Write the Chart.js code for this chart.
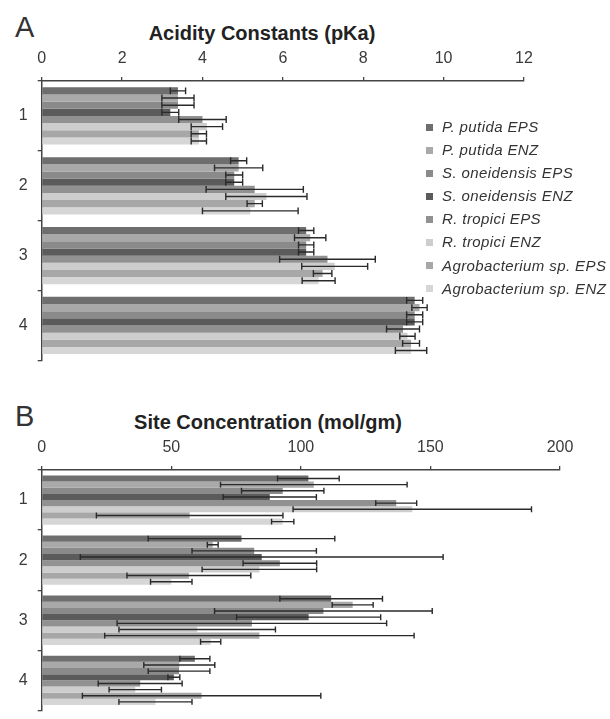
<!DOCTYPE html>
<html>
<head>
<meta charset="utf-8">
<script src="https://cdn.jsdelivr.net/npm/chart.js@4.4.0/dist/chart.umd.min.js"></script>
<style>
  html, body { margin: 0; padding: 0; background: #fff; overflow: hidden; }
  body { width: 610px; height: 719px; position: relative; font-family: "Liberation Sans", Arial, sans-serif; color: #2a2a2a; }
  canvas { position: absolute; left: 0; }
  .panel { position: absolute; font-size: 29px; line-height: 29px; color: #333; }
  .title { position: absolute; left: 0; width: 524px; text-align: center; font-weight: bold; font-size: 20px; line-height: 20px; color: #222; }
  #legend { position: absolute; left: 426px; top: 115px; }
  .item { height: 23.1px; line-height: 23.1px; font-size: 15px; font-style: italic; letter-spacing: 0.4px; color: #333; white-space: nowrap; }
  .item span { display: inline-block; width: 7px; height: 7px; margin-right: 9px; vertical-align: middle; position: relative; top: -1px; }
</style>
</head>
<body>
<div class="panel" style="left:15px; top:13px;">A</div>
<div class="title" style="top:23px;">Acidity Constants (pKa)</div>
<canvas id="pkaChart" width="610" height="380" style="top:0;"></canvas>
<div id="legend"></div>

<div class="panel" style="left:15px; top:402px;">B</div>
<div class="title" style="top:412px; left:6px;">Site Concentration (mol/gm)</div>
<canvas id="siteChart" width="610" height="341" style="top:389px;"></canvas>

<script>
// ---- data ----
const groups = ["1", "2", "3", "4"];
const strains = [
  "P. putida EPS", "P. putida ENZ", "S. oneidensis EPS", "S. oneidensis ENZ",
  "R. tropici EPS", "R. tropici ENZ", "Agrobacterium sp. EPS", "Agrobacterium sp. ENZ"
];
const greys = ["#6e6e6e", "#a9a9a9", "#8a8a8a", "#5b5b5b", "#919191", "#cdcdcd", "#a7a7a7", "#d6d6d6"];

const pkaTicks = [0, 2, 4, 6, 8, 10, 12];
const siteTicks = [0, 50, 100, 150, 200];

// one row per strain, columns = site 1..4
const pkaValues = [
  [3.39, 4.90, 6.58, 9.28],
  [3.39, 4.90, 6.68, 9.40],
  [3.39, 4.79, 6.58, 9.28],
  [3.20, 4.79, 6.58, 9.28],
  [4.00, 5.30, 7.11, 8.99],
  [4.11, 5.59, 7.29, 9.10],
  [3.91, 5.30, 6.99, 9.19],
  [3.91, 5.19, 6.89, 9.19]
];
const pkaErrors = [
  [0.19, 0.20, 0.19, 0.20],
  [0.40, 0.60, 0.39, 0.19],
  [0.40, 0.21, 0.19, 0.20],
  [0.21, 0.21, 0.19, 0.20],
  [0.59, 1.21, 1.19, 0.41],
  [0.39, 1.01, 0.82, 0.19],
  [0.19, 0.19, 0.23, 0.21],
  [0.19, 1.19, 0.41, 0.39]
];

const siteValues = [
  [102.9, 77.1, 111.7, 59.1],
  [105.0, 66.0, 120.0, 53.1],
  [93.0, 82.0, 108.7, 53.0],
  [88.0, 84.9, 103.0, 51.0],
  [136.8, 91.9, 81.1, 38.0],
  [143.0, 84.0, 60.0, 36.1],
  [57.1, 56.8, 84.0, 61.7],
  [93.0, 50.0, 65.2, 43.9]
];
const siteErrors = [
  [11.9, 36.0, 19.8, 5.8],
  [36.0, 2.1, 7.9, 13.7],
  [15.9, 24.0, 42.0, 11.9],
  [18.0, 70.0, 27.8, 2.3],
  [7.9, 14.2, 52.0, 16.2],
  [46.0, 22.1, 30.2, 10.1],
  [36.0, 23.9, 59.7, 46.0],
  [4.3, 8.0, 3.9, 14.1]
];

Chart.defaults.font.family = "'Liberation Sans', Arial, sans-serif";
Chart.defaults.color = "#3a3a3a";

// symmetric error bars drawn on top of every bar
const errorBars = {
  id: "errorBars",
  afterDatasetsDraw(chart) {
    const ctx = chart.ctx;
    const xs = chart.scales.x;
    ctx.save();
    ctx.strokeStyle = "#2a2a2a";
    ctx.lineWidth = 1.4;
    chart.data.datasets.forEach((ds, i) => {
      chart.getDatasetMeta(i).data.forEach((bar, j) => {
        const v = ds.data[j], e = ds.errors[j];
        const x1 = xs.getPixelForValue(v - e);
        const x2 = xs.getPixelForValue(v + e);
        const y = bar.y, h = bar.height * 0.48;
        ctx.beginPath();
        ctx.moveTo(x1, y); ctx.lineTo(x2, y);
        ctx.moveTo(x1, y - h); ctx.lineTo(x1, y + h);
        ctx.moveTo(x2, y - h); ctx.lineTo(x2, y + h);
        ctx.stroke();
      });
    });
    ctx.restore();
  }
};

function makeDatasets(values, errors) {
  return strains.map((name, i) => ({
    label: name,
    data: values[i],
    errors: errors[i],
    backgroundColor: greys[i],
    borderWidth: 0,
    categoryPercentage: 0.82,
    barPercentage: 1.0
  }));
}

function barOptions(max, tickValues, rightPad) {
  return {
    indexAxis: "y",
    responsive: false,
    animation: false,
    layout: { padding: { left: 0, right: rightPad, top: 50, bottom: 8 } },
    plugins: { legend: { display: false }, tooltip: { enabled: false } },
    scales: {
      x: {
        type: "linear",
        position: "top",
        min: 0,
        max: max,
        afterBuildTicks: s => { s.ticks = tickValues.map(v => ({ value: v })); },
        afterFit: s => { s.height = 31; },
        ticks: { color: "#3a3a3a", font: { size: 16 }, padding: 9, maxRotation: 0 },
        grid: { drawOnChartArea: false, tickLength: 4, color: "#444", lineWidth: 1.3 },
        border: { color: "#444", width: 1.5 }
      },
      y: {
        type: "category",
        afterFit: s => { s.width = 41.7; },
        ticks: { color: "#3a3a3a", font: { size: 16 }, padding: 10 },
        grid: { drawOnChartArea: false, tickLength: 4, offset: true, color: "#444", lineWidth: 1.3 },
        border: { color: "#444", width: 1.5 }
      }
    }
  };
}

new Chart(document.getElementById("pkaChart").getContext("2d"), {
  type: "bar",
  data: { labels: groups, datasets: makeDatasets(pkaValues, pkaErrors) },
  options: barOptions(12, pkaTicks, 610 - 524),
  plugins: [errorBars]
});

new Chart(document.getElementById("siteChart").getContext("2d"), {
  type: "bar",
  data: { labels: groups, datasets: makeDatasets(siteValues, siteErrors) },
  options: barOptions(200, siteTicks, 610 - 560),
  plugins: [errorBars]
});

// legend inside panel A
const legend = document.getElementById("legend");
strains.forEach((name, i) => {
  const row = document.createElement("div");
  row.className = "item";
  row.innerHTML = '<span style="background:' + greys[i] + '"></span>' + name;
  legend.appendChild(row);
});
</script>
</body>
</html>
